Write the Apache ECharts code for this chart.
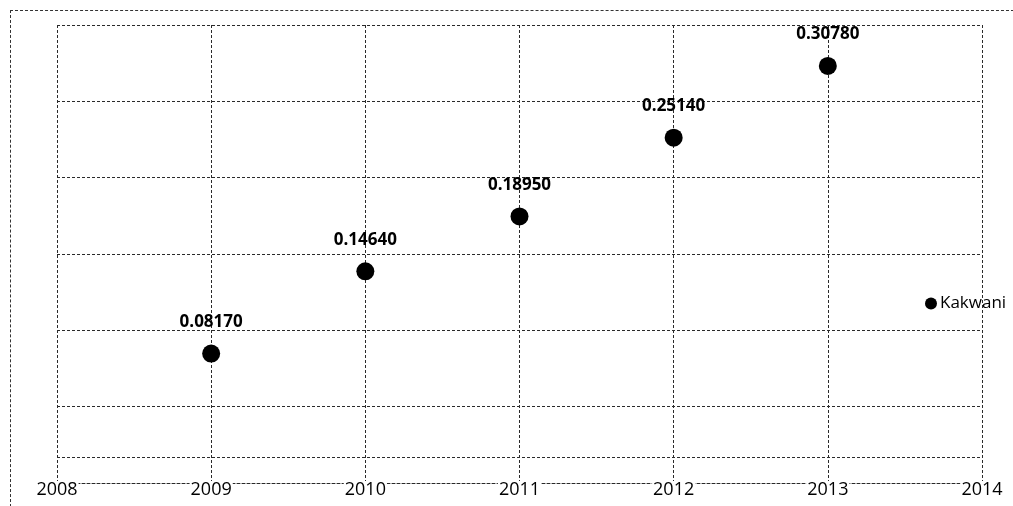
<!DOCTYPE html>
<html>
<head>
<meta charset="utf-8">
<script src="https://cdn.jsdelivr.net/npm/echarts@6/dist/echarts.min.js"></script>
<style>
  html, body { margin: 0; padding: 0; background: #fff; }
  #chart { width: 1013px; height: 506px; position: relative; }
  #frame { position: absolute; left: 10px; top: 10px; width: 1013px; height: 506px;
           border-top: 1px dashed #333; border-left: 1px dashed #333; pointer-events: none; }
</style>
</head>
<body>
<div id="chart"></div>
<div id="frame"></div>
<script>
// ---- data ----
const xTicks = ['2008', '2009', '2010', '2011', '2012', '2013', '2014'];
const years = ['2009', '2010', '2011', '2012', '2013'];
const kakwani = [0.0817, 0.1464, 0.1895, 0.2514, 0.3078];
const labelsText = ['0.08170', '0.14640', '0.18950', '0.25140', '0.30780'];
const seriesName = 'Kakwani';

const font = '"Open Sans", "Liberation Sans", sans-serif';
const gridLine = { color: '#2a2a2a', width: 1, type: [3, 2] };

const chart = echarts.init(document.getElementById('chart'), null, { renderer: 'canvas' });
chart.setOption({
  backgroundColor: '#fff',
  animation: false,
  grid: { left: 57, right: 31, top: 25, bottom: 23 },
  legend: {
    data: [seriesName],
    orient: 'vertical',
    left: 920,
    top: 290,
    icon: 'circle',
    itemWidth: 12,
    itemHeight: 12,
    itemGap: 4,
    itemStyle: { color: '#000', opacity: 1 },
    textStyle: { fontFamily: font, fontSize: 17, color: '#000', padding: [0, 0, 0, -2] }
  },
  xAxis: {
    type: 'category',
    data: xTicks,
    boundaryGap: false,
    axisLine: { show: true, onZero: false, lineStyle: gridLine },
    axisTick: { show: false },
    axisLabel: {
      fontFamily: font, fontSize: 18, color: '#000',
      verticalAlign: 'middle', margin: 7,
      backgroundColor: '#fff', padding: [0, 1]
    },
    splitLine: { show: true, lineStyle: gridLine }
  },
  yAxis: {
    type: 'value',
    min: -0.02,
    max: 0.34,
    interval: 0.06,
    axisLine: { show: false },
    axisTick: { show: false },
    axisLabel: { show: false },
    splitLine: { show: true, lineStyle: gridLine }
  },
  series: [{
    name: seriesName,
    type: 'scatter',
    symbol: 'circle',
    symbolSize: 18,
    itemStyle: { color: '#000', opacity: 1 },
    data: years.map((y, i) => [y, kakwani[i]]),
    label: {
      show: true,
      position: 'top',
      distance: 14,
      fontFamily: font,
      fontSize: 17,
      fontWeight: 'bold',
      color: '#000',
      formatter: p => labelsText[p.dataIndex]
    },
    markLine: {
      silent: true,
      symbol: 'none',
      label: { show: false },
      lineStyle: gridLine,
      data: [{ yAxis: 0 }]
    }
  }]
});
</script>
</body>
</html>
